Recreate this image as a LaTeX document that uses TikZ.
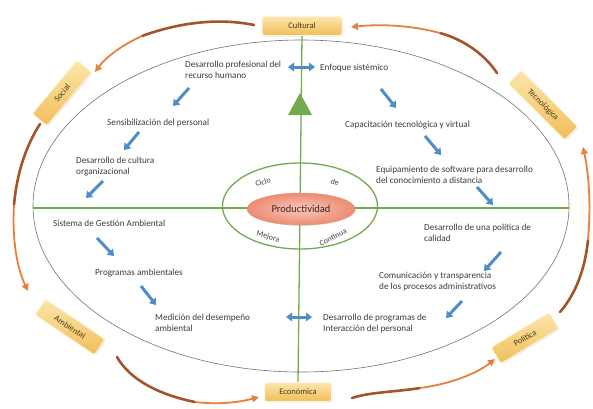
\documentclass[tikz,border=0pt]{standalone}
\usepackage{fontspec}
\setmainfont{Carlito}
\usetikzlibrary{arrows.meta,shadows,shapes.geometric}
\definecolor{grn}{HTML}{74AA4E}
\definecolor{blu}{HTML}{4F8DC9}
\definecolor{brn}{HTML}{A5532A}
\definecolor{org}{HTML}{E5803E}
\definecolor{txt}{HTML}{3C3C3C}
\definecolor{boxtop}{HTML}{FCE6AC}
\definecolor{boxbot}{HTML}{F1BE58}
\definecolor{boxtxt}{HTML}{4A3A12}
\begin{document}
\begin{tikzpicture}[x=1pt,y=-1pt,
  lbl/.style={font=\fontsize{9.2}{11}\selectfont, text=txt, anchor=west, align=left, inner sep=0pt},
  small/.style={font=\fontsize{8}{9}\selectfont, text=txt, inner sep=0pt},
  dimbox/.style={rounded corners=2.5pt, top color=boxtop, bottom color=boxbot, draw=white!85!boxbot, line width=1pt,
    font=\fontsize{8.5}{9}\selectfont, text=boxtxt, minimum height=19pt, inner sep=1pt,
    drop shadow={opacity=0.25, shadow xshift=0.8pt, shadow yshift=-0.8pt}},
  gline/.style={draw=grn, line width=1.3pt},
  barrow/.style={draw=blu, line width=3pt, -{Triangle[width=8.5pt,length=6pt]}},
  dbarrow/.style={draw=blu, line width=3pt, {Triangle[width=8.5pt,length=6pt]}-{Triangle[width=8.5pt,length=6pt]}},
  arctail/.style={draw=brn, line width=2.6pt, line cap=round},
  archead/.style={draw=org, line width=1.8pt, -{Triangle[width=7pt,length=7pt]}},
]
\useasboundingbox (0,0) rectangle (593,408);
\fill[white] (0,0) rectangle (593,408);

% outer ellipse
\draw[draw=black!55, line width=0.6pt] (301,206) ellipse [x radius=268pt, y radius=166pt];

% boxes
\node[dimbox, minimum width=80pt] (cult) at (302,26) {Cultural};
\node[dimbox, minimum width=67pt] (econ) at (298,392) {Económica};
\node[dimbox, minimum width=70pt, rotate=50] (soc) at (62,93) {Social};
\node[dimbox, minimum width=80pt, rotate=-45] (tec) at (543,105) {Tecnológica};
\node[dimbox, minimum width=72pt, rotate=-34] (amb) at (70,327) {Ambiental};
\node[dimbox, minimum width=68pt, rotate=31] (pol) at (525,338) {Política};

% green axes
\coordinate (hl) at (33,208);
\coordinate (hr) at (569,208);
\draw[gline] (cult.south) -- (econ.north);
\draw[gline] (hl) -- (hr);
\fill[grn] (300,93) -- (288,115) -- (312,115) -- cycle;

% inner cycle ellipse
\node[ellipse, draw=grn, line width=1.3pt, minimum width=155pt, minimum height=86pt, inner sep=0pt] (cyc) at (300,206) {};
\node[ellipse, minimum width=108pt, minimum height=32pt, inner sep=0pt,
  inner color=orange!20!red!25!white, outer color={rgb,255:red,234;green,140;blue,112}, draw={rgb,255:red,226;green,150;blue,126}, line width=0.5pt,
  drop shadow={opacity=0.25, shadow xshift=0.8pt, shadow yshift=-0.8pt},
  font=\fontsize{10.5}{12}\selectfont, text={rgb,255:red,58;green,40;blue,30}] (prod) at (301,209) {Productividad};

\node[small, rotate=17] (ciclo) at (263,182) {Ciclo};
\node[small, rotate=-20] (de) at (335,182) {de};
\node[small, rotate=-15] (mejora) at (268,237) {Mejora};
\node[small, rotate=27] (continua) at (333,237) {Continua};

% texts
\node[lbl] (t1) at (185,70) {Desarrollo profesional del\\recurso humano};
\node[lbl] (t2) at (107,123) {Sensibilización del personal};
\node[lbl] (t3) at (76,167) {Desarrollo de cultura\\organizacional};
\node[lbl] (t4) at (320,68) {Enfoque sistémico};
\node[lbl] (t5) at (345,125) {Capacitación tecnológica y virtual};
\node[lbl] (t6) at (376,175) {Equipamiento de software para desarrollo\\del conocimiento a distancia};
\node[lbl] (t7) at (53,223) {Sistema de Gestión Ambiental};
\node[lbl] (t8) at (95,273) {Programas ambientales};
\node[lbl] (t9) at (155,323) {Medición del desempeño\\ambiental};
\node[lbl] (t10) at (424,233) {Desarrollo de una política de\\calidad};
\node[lbl] (t11) at (379,282) {Comunicación y transparencia\\de los procesos administrativos};
\node[lbl] (t12) at (323,324) {Desarrollo de programas de\\Interacción del personal};

% blue arrows
\draw[dbarrow] (288,67) -- (315,67);
\draw[dbarrow] (286,317) -- (312,317);
\draw[barrow] (189,88) -- (173,106);
\draw[barrow] (139,132) -- (124,150);
\draw[barrow] (103,181) -- (86,198);
\draw[barrow] (381,89) -- (396,108);
\draw[barrow] (425,136) -- (441,155);
\draw[barrow] (477,187) -- (493,205);
\draw[barrow] (97,238) -- (114,256);
\draw[barrow] (141,286) -- (156,305);
\draw[barrow] (501,252) -- (484,271);
\draw[barrow] (462,301) -- (446,318);

% orange cycle arcs
\draw[arctail] (254,25) .. controls (215,17) and (175,24) .. (142,36);
\draw[archead] (142,36) .. controls (122,45) and (106,57) .. (95,72);

\draw[arctail] (40,124) .. controls (26,146) and (17,172) .. (14,205);
\draw[archead] (14,205) .. controls (12,240) and (17,268) .. (28,291);

\draw[arctail] (117,357) .. controls (130,380) and (160,395) .. (195,402);
\draw[archead] (195,402) .. controls (220,405) and (240,402) .. (259,397);

\draw[arctail] (352,398) .. controls (370,392) and (395,392) .. (420,388);
\draw[archead] (420,388) .. controls (450,384) and (476,374) .. (495,359);

\draw[arctail] (560,312) .. controls (575,295) and (585,270) .. (588,240);
\draw[archead] (588,240) .. controls (591,205) and (589,175) .. (583,147);

\draw[arctail] (497,73) .. controls (485,55) and (465,40) .. (440,33);
\draw[archead] (440,33) .. controls (410,25) and (380,24) .. (351,27);
\end{tikzpicture}
\end{document}
